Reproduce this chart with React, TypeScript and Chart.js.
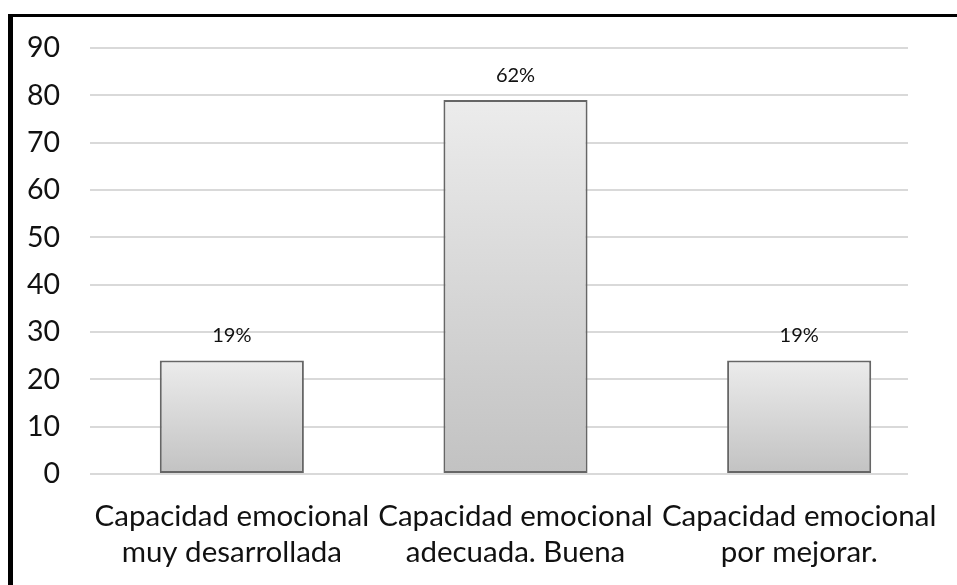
import React, { useEffect, useRef } from "react";
import { Chart, registerables } from "chart.js";

Chart.register(...registerables);

const categories: string[][] = [
  ["Capacidad emocional", "muy desarrollada"],
  ["Capacidad emocional", "adecuada. Buena"],
  ["Capacidad emocional", "por mejorar."],
];
const values: number[] = [24, 79, 24];
const percentLabels: string[] = ["19%", "62%", "19%"];
const yTicks: number[] = [0, 10, 20, 30, 40, 50, 60, 70, 80, 90];

const FONT = "Lato, 'Open Sans', sans-serif";

export default function App() {
  const ref = useRef<HTMLCanvasElement | null>(null);

  useEffect(() => {
    if (!ref.current) return;

    const gridClip = {
      id: "gridClip",
      beforeDatasetsDraw(chart: any) {
        const { ctx, chartArea } = chart;
        ctx.save();
        ctx.fillStyle = "#ffffff";
        ctx.fillRect(908, chartArea.top - 3, chartArea.right - 908 + 20, chartArea.bottom - chartArea.top + 6);
        ctx.restore();
      },
    };

    const valueLabels = {
      id: "valueLabels",
      afterDatasetsDraw(chart: any) {
        const { ctx } = chart;
        const meta = chart.getDatasetMeta(0);
        ctx.save();
        ctx.font = `20px ${FONT}`;
        ctx.fillStyle = "#111111";
        ctx.textAlign = "center";
        ctx.textBaseline = "alphabetic";
        meta.data.forEach((bar: any, i: number) => {
          ctx.fillText(percentLabels[i], bar.x, bar.y - 18);
        });
        ctx.restore();
      },
    };

    const chart = new Chart(ref.current, {
      type: "bar",
      data: {
        labels: categories,
        datasets: [
          {
            data: values,
            backgroundColor: (c: any) => {
              const ch = c.chart;
              const y = ch.scales && ch.scales.y;
              if (!ch.chartArea || !y || c.raw === undefined) return "#d8d8d8";
              const top = y.getPixelForValue(c.raw);
              const bottom = y.getPixelForValue(0);
              const g = ch.ctx.createLinearGradient(0, top, 0, bottom);
              g.addColorStop(0, "#ececec");
              g.addColorStop(1, "#c2c2c2");
              return g;
            },
            borderColor: "#666666",
            borderWidth: 2,
            borderSkipped: false,
            barPercentage: 0.508,
            categoryPercentage: 1,
          },
        ],
      },
      options: {
        responsive: false,
        animation: false,
        devicePixelRatio: 1,
        layout: { padding: { left: 12, top: 48, right: 16, bottom: 0 } },
        plugins: {
          legend: { display: false },
          tooltip: { enabled: false },
          title: { display: false },
        },
        scales: {
          x: {
            grid: { display: false, drawTicks: false },
            border: { display: false },
            ticks: {
              color: "#111111",
              font: { family: FONT, size: 29.5, lineHeight: 1.2 },
              padding: 25,
              maxRotation: 0,
              autoSkip: false,
            },
            afterFit: (s: any) => {
              s.height = 111;
              s.paddingLeft = 0;
              s.paddingRight = 0;
            },
          },
          y: {
            min: 0,
            max: 90,
            afterBuildTicks: (s: any) => {
              s.ticks = yTicks.map((v) => ({ value: v }));
            },
            grid: { color: "#d9d9d9", lineWidth: 2, drawTicks: false },
            border: { display: false },
            ticks: {
              color: "#111111",
              font: { family: FONT, size: 28.5 },
              padding: 30,
            },
            afterFit: (s: any) => {
              s.width = 78;
            },
          },
        },
      },
      plugins: [gridClip, valueLabels],
    });

    return () => chart.destroy();
  }, []);

  return (
    <div style={{ position: "fixed", left: 0, top: 0, width: 957, height: 585, background: "#ffffff", overflow: "hidden" }}>
      <div
        style={{
          position: "absolute",
          left: 8,
          top: 14,
          width: 980,
          height: 600,
          borderTop: "3px solid #000",
          borderLeft: "5px solid #000",
        }}
      />
      <canvas
        ref={ref}
        width={957}
        height={585}
        style={{ position: "absolute", left: 0, top: 0, width: 957, height: 585 }}
      />
    </div>
  );
}
